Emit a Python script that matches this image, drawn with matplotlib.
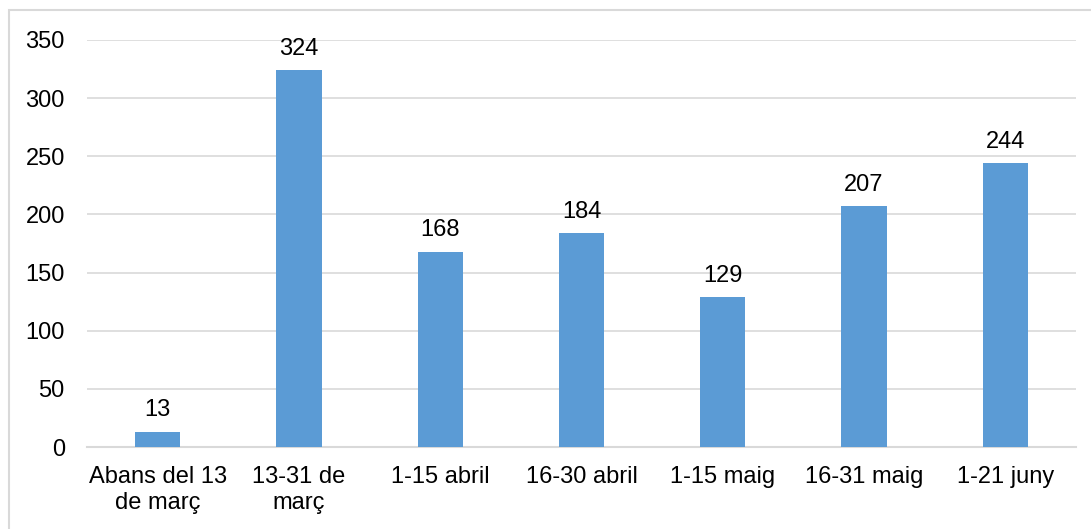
import matplotlib.pyplot as plt
from matplotlib.patches import Rectangle

plt.rcParams['font.family'] = ['Liberation Sans', 'DejaVu Sans']

categorias = ['Abans del 13\nde març', '13-31 de\nmarç', '1-15 abril', '16-30 abril',
              '1-15 maig', '16-31 maig', '1-21 juny']
valores = [13, 324, 168, 184, 129, 207, 244]
ticks_y = [0, 50, 100, 150, 200, 250, 300, 350]

fig = plt.figure(figsize=(10.91, 5.29), dpi=100)
ax = fig.add_axes([87 / 1091, 1 - 447 / 529, (1076 - 87) / 1091, (447 - 40) / 529])

# marco gris del grafico
fig.patches.append(Rectangle((9 / 1091, -0.1), 1.2, 1 - 10 / 529 + 0.1,
                             transform=fig.transFigure, fill=False,
                             edgecolor='#d9d9d9', linewidth=1.5))

x = range(len(categorias))
barras = ax.bar(x, valores, width=0.32, color='#5b9bd5', zorder=3)
for b, v in zip(barras, valores):
    ax.text(b.get_x() + b.get_width() / 2, v + 9, str(v), ha='center', va='bottom',
            fontsize=17, color='#000000')

ax.set_ylim(0, 350)
ax.set_xlim(-0.5, len(categorias) - 0.5)
ax.set_yticks(ticks_y)
ax.set_xticks(list(x))
ax.set_xticklabels(categorias, fontsize=17, linespacing=1.2)
ax.tick_params(axis='y', labelsize=17, length=0, pad=16)
ax.tick_params(axis='x', length=0, pad=14)
ax.grid(axis='y', color='#d9d9d9', linewidth=1.2, zorder=0)
for s in ['top', 'right', 'left']:
    ax.spines[s].set_visible(False)
ax.spines['bottom'].set_color('#d9d9d9')
ax.spines['bottom'].set_linewidth(1.5)

fig.savefig('out.png', dpi=100)
